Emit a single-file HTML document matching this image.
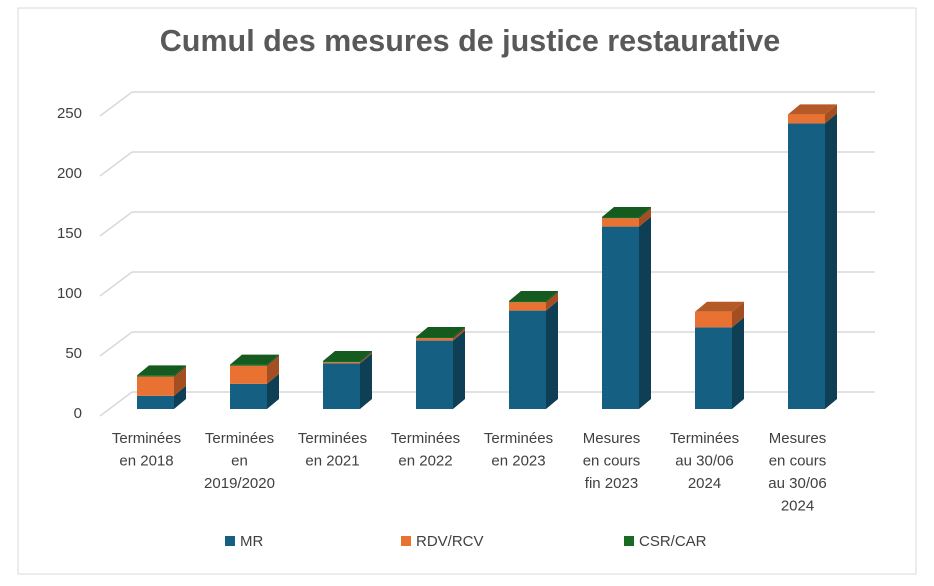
<!DOCTYPE html>
<html><head><meta charset="utf-8"><style>
body{margin:0;background:#fff;font-family:"Liberation Sans",sans-serif}
svg text{font-family:"Liberation Sans",sans-serif}
</style></head><body>
<svg width="934" height="581">
<rect x="18" y="8" width="898" height="566" fill="#fff" stroke="#d9d9d9"/>
<text x="470" y="51" text-anchor="middle" font-size="30.5" font-weight="bold" fill="#595959">Cumul des mesures de justice restaurative</text>
<g id="grid"></g><g id="bars"></g><g id="xl"></g>
<g>
<rect x="225" y="536" width="10" height="10" fill="#156082"/><text x="240" y="546" font-size="15" fill="#404040">MR</text>
<rect x="401" y="536" width="10" height="10" fill="#e97132"/><text x="416" y="546" font-size="15" fill="#404040">RDV/RCV</text>
<rect x="624" y="536" width="10" height="10" fill="#196b24"/><text x="639" y="546" font-size="15" fill="#404040">CSR/CAR</text>
</g>
</svg>
<script>
const categories=[["Terminées","en 2018"],["Terminées","en","2019/2020"],["Terminées","en 2021"],["Terminées","en 2022"],["Terminées","en 2023"],["Mesures","en cours","fin 2023"],["Terminées","au 30/06","2024"],["Mesures","en cours","au 30/06","2024"]];
const mr=[11,21,38,57,82,152,68,238];
const rdv=[16,15,1,2,7,7,13,7.5];
const csr=[1,1,1,1,1,1,0,0];
const ticks=[0,50,100,150,200,250];
const NS="http://www.w3.org/2000/svg";
function mk(t,a,p){const e=document.createElementNS(NS,t);for(const k in a)e.setAttribute(k,a[k]);p.appendChild(e);return e;}
const K=1.2;
function yFront(v){return 409-v*K;}
function yBack(v){return 392-v*K;}
const grid=document.getElementById('grid');
ticks.forEach(t=>{
 const l=mk('line',{x1:132,x2:875,y1:yBack(t),y2:yBack(t),stroke:'#d9d9d9','stroke-width':1.5},grid);
 
 
 const d=mk('line',{x1:100,y1:yBack(t)+24,x2:132,y2:yBack(t),stroke:'#d9d9d9','stroke-width':1.5},grid);
 
 
 const tx=mk('text',{x:82,y:yBack(t)+26,'text-anchor':'end','font-size':15,fill:'#404040'},grid);
 tx.textContent=t;
 
 
});
const bars=document.getElementById('bars'),xl=document.getElementById('xl');
const W=37,DX=12,DY=10;
const cols=[["#156082","#0e3f55","#156082"],["#e97132","#a44f22","#b55a26"],["#196b24","#114a19","#155a1e"]];
categories.forEach((c,i)=>{
 const x=137+i*93;
 const g=mk('g',{},bars);
 
 
 let base=0;
 [mr[i],rdv[i],csr[i]].forEach((v,s)=>{
  if(v<=0)return;
  const y0=yFront(base),y1=yFront(base+v);
  const f=mk('rect',{x:x,y:y1,width:W,height:y0-y1,fill:cols[s][0]},g);
  
  
  const sd=mk('polygon',{points:`${x+W},${y0} ${x+W+DX},${y0-DY} ${x+W+DX},${y1-DY} ${x+W},${y1}`,fill:cols[s][1]},g);
  
  
  base+=v;
 });
 const top=yFront(base);
 const ts=csr[i]>0?2:(rdv[i]>0?1:0);
 const tp=mk('polygon',{points:`${x},${top} ${x+DX},${top-DY} ${x+W+DX},${top-DY} ${x+W},${top}`,fill:cols[ts][2]},g);
 
 
 const cx=x+W/2-9;
 const t=mk('text',{x:cx,'text-anchor':'middle','font-size':15,fill:'#404040'},xl);
 
 
 c.forEach((ln,j)=>{const s=mk('tspan',{x:cx,y:443+j*22.5},t);s.textContent=ln;});
});
</script>
</body></html>
